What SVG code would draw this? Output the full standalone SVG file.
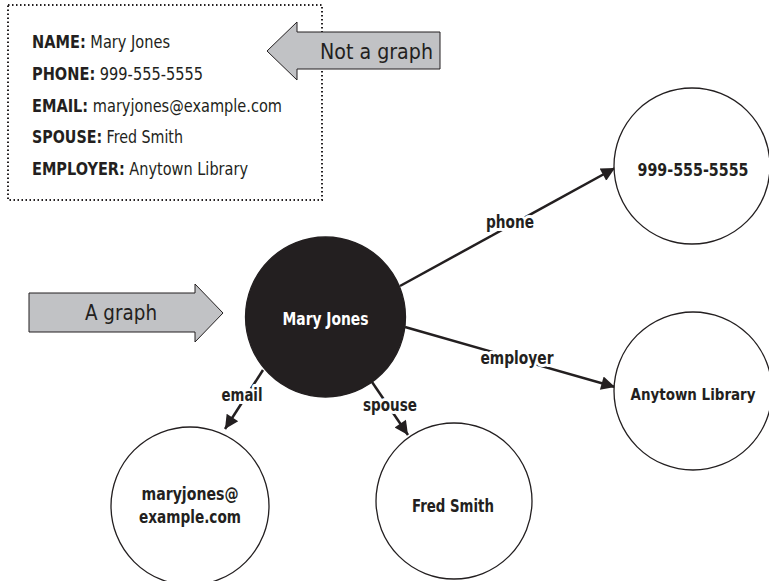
<svg xmlns="http://www.w3.org/2000/svg" width="769" height="581" viewBox="0 0 769 581">
<defs>
<style>
text{font-family:"DejaVu Sans Condensed","Liberation Sans",sans-serif;fill:#231f20}
.box{fill:none;stroke:#231f20;stroke-width:2;stroke-dasharray:1.5 2.5}
.rec{font-size:17.5px}
.rec .k{font-weight:bold}
.arrowshape{fill:#c1c2c5;stroke:#231f20;stroke-width:1}
.callout{font-size:21px;fill:#231f20}
.node circle{fill:#fff;stroke:#231f20;stroke-width:1.3}
.node text{font-size:18px;font-weight:bold;text-anchor:middle}
#n-mary circle{fill:#231f20}
#n-mary text{fill:#fff}
.edge line{stroke:#231f20;stroke-width:2.5}
.elabel{font-size:18px;font-weight:bold;text-anchor:middle;stroke:#fff;stroke-width:6;paint-order:stroke;stroke-linejoin:round}
</style>
<marker id="ah" viewBox="0 0 10 10" refX="10" refY="5" markerWidth="7" markerHeight="5.5" markerUnits="strokeWidth" orient="auto">
<path d="M0,0 L10,5 L0,10 Z" fill="#231f20"/>
</marker>
</defs>

<g id="record">
<rect class="box" x="8" y="5" width="314" height="195"/>
<g class="rec">
<text x="32" y="48" textLength="138" lengthAdjust="spacingAndGlyphs"><tspan class="k">NAME:</tspan> Mary Jones</text>
<text x="32" y="80" textLength="171" lengthAdjust="spacingAndGlyphs"><tspan class="k">PHONE:</tspan> 999-555-5555</text>
<text x="32" y="112" textLength="250" lengthAdjust="spacingAndGlyphs"><tspan class="k">EMAIL:</tspan> maryjones@example.com</text>
<text x="32" y="143" textLength="151" lengthAdjust="spacingAndGlyphs"><tspan class="k">SPOUSE:</tspan> Fred Smith</text>
<text x="32" y="175" textLength="216" lengthAdjust="spacingAndGlyphs"><tspan class="k">EMPLOYER:</tspan> Anytown Library</text>
</g>
</g>

<g id="callout-not-graph">
<polygon class="arrowshape" points="267,51 297,22 297,32 440,32 440,69 297,69 297,80"/>
<text class="callout" x="320" y="59" textLength="113" lengthAdjust="spacingAndGlyphs">Not a graph</text>
</g>

<g id="callout-graph">
<polygon class="arrowshape" points="29,293 195,293 195,284 223,313 195,342 195,332 29,332"/>
<text class="callout" x="85" y="320" textLength="72" lengthAdjust="spacingAndGlyphs">A graph</text>
</g>

<g id="connectors" class="edge">
<line x1="400" y1="286" x2="615" y2="168" marker-end="url(#ah)"/>
<line x1="405" y1="327" x2="615" y2="387" marker-end="url(#ah)"/>
<line x1="263" y1="370" x2="225" y2="429" marker-end="url(#ah)"/>
<line x1="372" y1="382" x2="408" y2="435" marker-end="url(#ah)"/>
<text class="elabel" x="510" y="228" textLength="48" lengthAdjust="spacingAndGlyphs">phone</text>
<text class="elabel" x="517" y="364" textLength="73" lengthAdjust="spacingAndGlyphs">employer</text>
<text class="elabel" x="242" y="401" textLength="41" lengthAdjust="spacingAndGlyphs">email</text>
<text class="elabel" x="390" y="411" textLength="54" lengthAdjust="spacingAndGlyphs">spouse</text>
</g>

<g id="n-mary" class="node">
<circle cx="325.5" cy="317" r="80"/>
<text x="325.5" y="325" textLength="86" lengthAdjust="spacingAndGlyphs">Mary Jones</text>
</g>
<g id="n-phone" class="node">
<circle cx="692" cy="166" r="78"/>
<text x="693" y="176" textLength="111" lengthAdjust="spacingAndGlyphs">999-555-5555</text>
</g>
<g id="n-employer" class="node">
<circle cx="693" cy="391" r="79"/>
<text x="693" y="400" style="font-size:16px" textLength="125" lengthAdjust="spacingAndGlyphs">Anytown Library</text>
</g>
<g id="n-email" class="node">
<circle cx="190" cy="506" r="79"/>
<text x="190" y="500" textLength="97" lengthAdjust="spacingAndGlyphs">maryjones@</text>
<text x="190" y="523" textLength="102" lengthAdjust="spacingAndGlyphs">example.com</text>
</g>
<g id="n-spouse" class="node">
<circle cx="454" cy="501" r="78"/>
<text x="453" y="512" textLength="82" lengthAdjust="spacingAndGlyphs">Fred Smith</text>
</g>
</svg>
